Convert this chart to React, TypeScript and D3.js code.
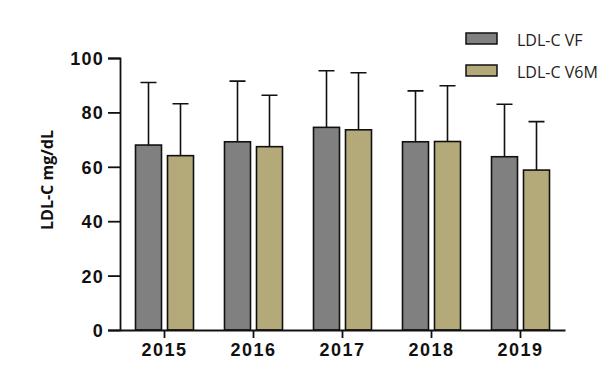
import React, { useEffect, useRef } from 'react'
import * as d3 from 'd3'

const years = ['2015', '2016', '2017', '2018', '2019']
const seriesNames = ['LDL-C VF', 'LDL-C V6M']
const vfMean = [68.0, 69.2, 74.5, 69.2, 63.7]
const vfTop = [91.0, 91.5, 95.3, 87.9, 83.0]
const v6mMean = [64.1, 67.4, 73.6, 69.3, 58.8]
const v6mTop = [83.2, 86.3, 94.6, 89.8, 76.6]
const yTicks = [0, 20, 40, 60, 80, 100]
const colors = ['#808080', '#b4a978']

export default function App() {
  const ref = useRef<SVGSVGElement>(null)

  useEffect(() => {
    const svg = d3.select(ref.current)
    svg.selectAll('*').remove()

    const x = d3.scaleBand().domain(years).range([120, 565])
    const y = d3.scaleLinear().domain([0, 100]).range([330, 58])
    const barW = 26
    const gap = 6

    const data = years.map((yr, i) => ({
      yr,
      vals: [
        { s: 0, mean: vfMean[i], top: vfTop[i] },
        { s: 1, mean: v6mMean[i], top: v6mTop[i] },
      ],
    }))

    const g = svg.append('g')

    const grp = g.selectAll('.grp')
      .data(data)
      .enter()
      .append('g')
      .attr('class', 'grp')
      .attr('transform', d => 'translate(' + (x(d.yr)! + x.bandwidth() / 2) + ',0)')

    const bx = (s: number) => (s === 0 ? -gap / 2 - barW : gap / 2)

    // error bars, upper half only
    grp.selectAll('.err')
      .data(d => d.vals)
      .enter()
      .append('path')
      .attr('d', d => {
        const cx = bx(d.s) + barW / 2
        return 'M' + cx + ',' + y(d.mean) + 'V' + y(d.top) +
          'M' + (cx - 8) + ',' + y(d.top) + 'H' + (cx + 8)
      })
      .attr('stroke', '#111')
      .attr('stroke-width', 1.6)
      .attr('fill', 'none')

    grp.selectAll('rect')
      .data(d => d.vals)
      .enter()
      .append('rect')
      .attr('x', d => bx(d.s))
      .attr('y', d => y(d.mean))
      .attr('width', barW)
      .attr('height', d => y(0) - y(d.mean))
      .attr('fill', d => colors[d.s])
      .attr('stroke', '#111')
      .attr('stroke-width', 1.6)

    // y axis
    const yAxis = g.append('g')
      .attr('transform', 'translate(120,0)')
      .call(d3.axisLeft(y).tickValues(yTicks).tickSize(12).tickPadding(4))
    yAxis.select('.domain').attr('stroke', '#111').attr('stroke-width', 1.8)
    yAxis.selectAll('.tick line').attr('stroke', '#111').attr('stroke-width', 1.8)
    yAxis.selectAll('.tick text')
      .attr('font-family', 'Liberation Sans, Arial, sans-serif')
      .attr('font-weight', 'bold')
      .attr('font-size', 18)
      .attr('letter-spacing', 1.2)
      .attr('fill', '#111')
      .attr('dy', '0.36em')

    // x axis
    const xAxis = g.append('g')
      .attr('transform', 'translate(0,330)')
      .call(d3.axisBottom(x).tickSize(8).tickPadding(5).tickSizeOuter(0))
    xAxis.select('.domain').attr('stroke', '#111').attr('stroke-width', 1.8)
    xAxis.selectAll('.tick line').attr('stroke', '#111').attr('stroke-width', 1.8)
    xAxis.selectAll('.tick text')
      .attr('font-family', 'Liberation Sans, Arial, sans-serif')
      .attr('font-weight', 'bold')
      .attr('font-size', 18)
      .attr('letter-spacing', 1.5)
      .attr('fill', '#111')

    // y title
    svg.append('text')
      .attr('transform', 'translate(53,180) rotate(-90)')
      .attr('text-anchor', 'middle')
      .attr('font-family', 'Open Sans, sans-serif')
      .attr('font-weight', 'bold')
      .attr('font-size', 16)
      .attr('fill', '#111')
      .text('LDL-C mg/dL')

    // legend
    const leg = svg.selectAll('.leg')
      .data(seriesNames)
      .enter()
      .append('g')
      .attr('class', 'leg')
      .attr('transform', (d, i) => 'translate(466,' + (33 + i * 32) + ')')
    leg.append('rect')
      .attr('width', 31)
      .attr('height', 11)
      .attr('fill', (d, i) => colors[i])
      .attr('stroke', '#111')
      .attr('stroke-width', 1.5)
    leg.append('text')
      .attr('x', 51)
      .attr('y', 13)
      .attr('font-family', 'Open Sans, sans-serif')
      .attr('font-size', 16)
      .attr('fill', '#222')
      .text(d => d)
  }, [])

  return (
    <svg ref={ref} width={612} height={369} style={{ display: 'block', margin: -8 }} />
  )
}
